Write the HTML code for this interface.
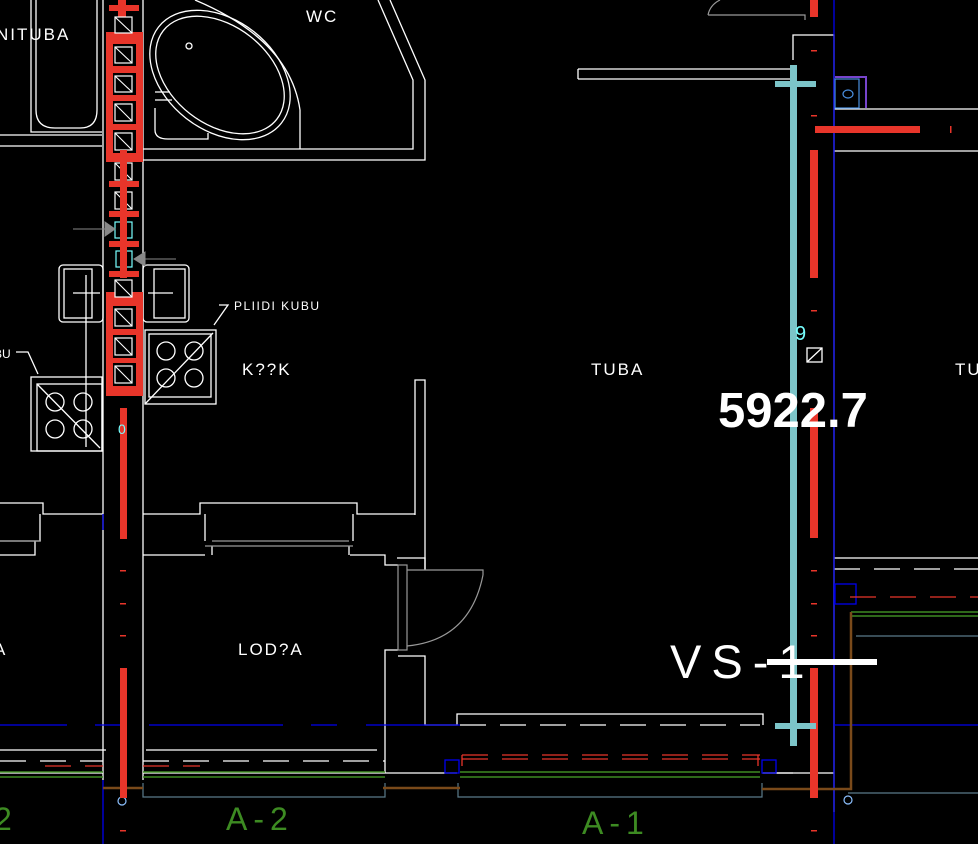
<!DOCTYPE html>
<html><head><meta charset="utf-8"><style>
html,body{margin:0;padding:0;background:#000;}
svg{display:block;}
text{font-family:"Liberation Sans",sans-serif;}
</style></head><body>
<svg width="978" height="844" viewBox="0 0 978 844" xmlns="http://www.w3.org/2000/svg">
<rect width="978" height="844" fill="#000"/>
<g fill="none" stroke="#fff" stroke-width="1.3">
<path d="M31 0V132H102"/>
<path d="M36 0V110Q36 128 55 128H80Q97 128 97 110V0"/>
<path d="M0 135H102M0 146H102"/>
<path d="M103 0V780M143 0V780"/>
<path d="M143 160H425V80L390 0M143 149H413V80L378 0"/>
<path d="M300 149V110Q290 40 195 0"/>
<ellipse cx="220" cy="75" rx="78" ry="55" transform="rotate(38 220 75)"/>
<ellipse cx="220" cy="75" rx="72" ry="49" transform="rotate(38 220 75)"/>
<circle cx="189" cy="46" r="3"/>
<path d="M155 92H170M155 100H172M155 108V130Q155 139 168 139H208V133"/>
<rect x="59" y="265" width="44" height="57" rx="4"/>
<rect x="64" y="269" width="28" height="49"/>
<rect x="143" y="265" width="46" height="57" rx="4"/>
<rect x="154" y="269" width="31" height="49"/>
<path d="M73 293H100M148 293H173"/>
<path d="M86 275V447"/>
<rect x="145" y="330" width="71" height="74"/>
<rect x="149" y="334" width="62" height="63"/>
<path d="M145 404L213 333"/>
<circle cx="166" cy="351" r="9"/><circle cx="194" cy="351" r="9"/><circle cx="166" cy="378" r="9"/><circle cx="194" cy="378" r="9"/>
<path d="M219 305H228L214 325"/>
<rect x="31" y="377" width="71" height="74"/>
<rect x="37" y="384" width="65" height="67"/>
<circle cx="55" cy="402" r="9"/><circle cx="83" cy="402" r="9"/><circle cx="55" cy="429" r="9"/><circle cx="83" cy="429" r="9"/>
<path d="M37 384L100 448M16 352H28L38 374"/>
<path d="M415 515V380H425V570"/>
<path d="M103 514H43V503H0M143 514H200V503H357V514H415"/>
<path d="M40 514V541H0M0 555H35V541M205 514V541M353 514V541"/>
<path d="M143 555H205M350 555H385V565H398M212 555V546M349 555V546"/>
<path d="M425 570V558H397M398 650H385V725M398 656H425V725H457V714H763V725"/>
<path d="M0 750H106M146 750H377"/>
<path d="M385 725V773H457M763 773H793M0 773H103M143 773H385"/>
<path d="M793 42V35H834V812M793 42V60"/>
<path d="M762 773H834"/>
<path d="M578 69H793M578 79H793M578 69V79"/>
<path d="M834 109H978M834 151H978M834 558H978"/>
<rect x="807" y="348" width="15" height="14"/>
<path d="M807 362L822 348"/>
</g>
<g stroke="#fff" stroke-width="1.3" stroke-dasharray="26 14" fill="none">
<path d="M0 761H103M143 761H385M460 725H760M834 569H978"/>
</g>
<g stroke="#999" stroke-width="1.2" fill="none">
<rect x="398" y="565" width="9" height="85"/>
<path d="M407 570H483V575M483 575Q470 640 407 646"/>
<path d="M212 541H349M205 546H353"/>
<path d="M708 15H805V20M708 15Q710 5 720 0"/>
<path d="M0 541H40"/>
</g>
<g stroke="#0000ee" stroke-width="1.3" fill="none">
<path d="M103 780V844M834 0V844M103 514V530"/>
<path d="M0 725H67M95 725H120M149 725H283M311 725H337M366 725H460M834 725H978" />
<rect x="762" y="760" width="14" height="13"/>
<rect x="835" y="584" width="21" height="20"/>
<rect x="445" y="760" width="14" height="13"/>
</g>
<g stroke="#3d8b22" stroke-width="1.5" fill="none">
<path d="M0 772H103M0 777H103M143 772H385M143 777H385M460 772H760M460 777H760M851 612H978M851 616H978"/>
</g>
<g fill="none" stroke="#5a7a8a" stroke-width="1.2"><path d="M143 783V797H385V783M458 783V797H762V783M856 636H978M848 793H978"/></g>
<circle cx="848" cy="800" r="4" fill="none" stroke="#8cc0ff" stroke-width="1.2"/>
<circle cx="122" cy="801" r="4" fill="none" stroke="#8cc0ff" stroke-width="1.2"/>
<g stroke="#7a4a1a" stroke-width="2.5" fill="none"><path d="M383 788H460M762 789H851V612M103 788H143"/></g>
<g stroke="#e8352a" stroke-width="1.3" fill="none" stroke-dasharray="26 14">
<path d="M462 755H760M462 759H760M45 766H103M143 766H200M850 597H978"/>
</g>
<path d="M462 755V766M758 755V766" stroke="#e8352a" stroke-width="1.3"/>
<g fill="#e8352a">
<rect x="106" y="32" width="37" height="130"/>
<rect x="106" y="292" width="37" height="104"/>
<rect x="118" y="0" width="8" height="18"/>
<rect x="109" y="5" width="30" height="6"/>
</g>
<!-- black gaps inside red frames -->
<g fill="#000">
<rect x="113" y="44" width="23" height="22"/>
<rect x="113" y="73" width="23" height="22"/>
<rect x="113" y="101" width="23" height="23"/>
<rect x="113" y="130" width="23" height="23"/>
<rect x="113" y="306" width="23" height="23"/>
<rect x="113" y="335" width="23" height="23"/>
<rect x="113" y="363" width="23" height="23"/>
</g>
<g fill="#e8352a">
<rect x="120" y="408" width="7" height="131"/>
<rect x="120" y="668" width="7" height="130"/>
<rect x="120" y="570" width="6" height="1.5"/><rect x="120" y="603" width="6" height="1.5"/><rect x="120" y="635" width="6" height="1.5"/><rect x="120" y="830" width="6" height="1.5"/>
<rect x="810" y="0" width="8" height="17"/>
<rect x="810" y="150" width="8" height="128"/>
<rect x="810" y="408" width="8" height="130"/>
<rect x="810" y="668" width="8" height="130"/>
<rect x="815" y="126" width="105" height="7"/>
<rect x="950" y="126" width="1.5" height="7"/>
<rect x="811" y="50" width="6" height="1.5"/><rect x="811" y="115" width="6" height="1.5"/><rect x="811" y="310" width="6" height="1.5"/><rect x="811" y="570" width="6" height="1.5"/><rect x="811" y="603" width="6" height="1.5"/><rect x="811" y="635" width="6" height="1.5"/><rect x="811" y="830" width="6" height="1.5"/>
</g>
<g fill="#000" stroke="#fff" stroke-width="1.2">
<rect x="115" y="17" width="17" height="16"/>
<rect x="115" y="47" width="17" height="16"/>
<rect x="115" y="76" width="17" height="16"/>
<rect x="115" y="104" width="17" height="17"/>
<rect x="115" y="133" width="17" height="17"/>
<rect x="115" y="163" width="17" height="17"/>
<rect x="115" y="192" width="17" height="17"/>
<rect x="115" y="222" width="17" height="16" stroke="#7ff"/>
<rect x="116" y="251" width="16" height="16" stroke="#7ff"/>
<rect x="115" y="280" width="17" height="17"/>
<rect x="115" y="309" width="17" height="17"/>
<rect x="115" y="338" width="17" height="17"/>
<rect x="115" y="366" width="17" height="17"/>
</g>
<g stroke="#fff" stroke-width="1.1"><path d="M115 17L132 33M115 47L132 63M115 76L132 92M115 104L132 121M115 133L132 150M115 163L132 180M115 192L132 209M115 280L132 297M115 309L132 326M115 338L132 355M115 366L132 383"/></g>
<g fill="#e8352a">
<rect x="120" y="150" width="7" height="128"/>
<rect x="109" y="181" width="30" height="6"/><rect x="109" y="211" width="30" height="6"/><rect x="109" y="241" width="30" height="6"/><rect x="109" y="271" width="30" height="6"/>
</g>
<path d="M73 229H105M105 222L115 229L105 236Z" stroke="#888" fill="#888"/>
<path d="M176 259H145M145 252L134 259L145 266Z" stroke="#888" fill="#888"/>
<g fill="#7cc4c8">
<rect x="790" y="65" width="7" height="681"/>
<rect x="775" y="81" width="41" height="6"/>
<rect x="775" y="723" width="41" height="6"/>
</g>
<rect x="767" y="659" width="110" height="6" fill="#fff"/>
<g fill="none" stroke="#7744cc" stroke-width="2"><path d="M835 77H866V108"/></g>
<g fill="none" stroke="#4a8fe0" stroke-width="1.2"><rect x="835" y="79" width="24" height="29"/><ellipse cx="848" cy="94" rx="5" ry="4"/></g>
<g fill="#fff" font-size="17" letter-spacing="2">
<text x="-4" y="40">NITUBA</text>
<text x="306" y="22">WC</text>
<text x="242" y="375">K??K</text>
<text x="591" y="375">TUBA</text>
<text x="955" y="375">TU</text>
<text x="238" y="655">LOD?A</text>
<text x="-6" y="655">A</text>
</g>
<text x="234" y="310" fill="#fff" font-size="12" letter-spacing="1.5">PLIIDI KUBU</text>
<text x="-6" y="358" fill="#fff" font-size="12">BU</text>
<text x="718" y="427" fill="#fff" font-size="49" font-weight="bold">5922.7</text>
<text x="670" y="678" fill="#fff" font-size="47" letter-spacing="10">VS-1</text>
<text x="795" y="340" fill="#7ff" font-size="20">9</text>
<text x="118" y="434" fill="#7ff" font-size="14">0</text>
<g fill="#3d8b22" font-size="32" letter-spacing="6"><text x="226" y="830">A-2</text><text x="582" y="834">A-1</text><text x="-6" y="830">2</text></g>
</svg>
</body></html>
